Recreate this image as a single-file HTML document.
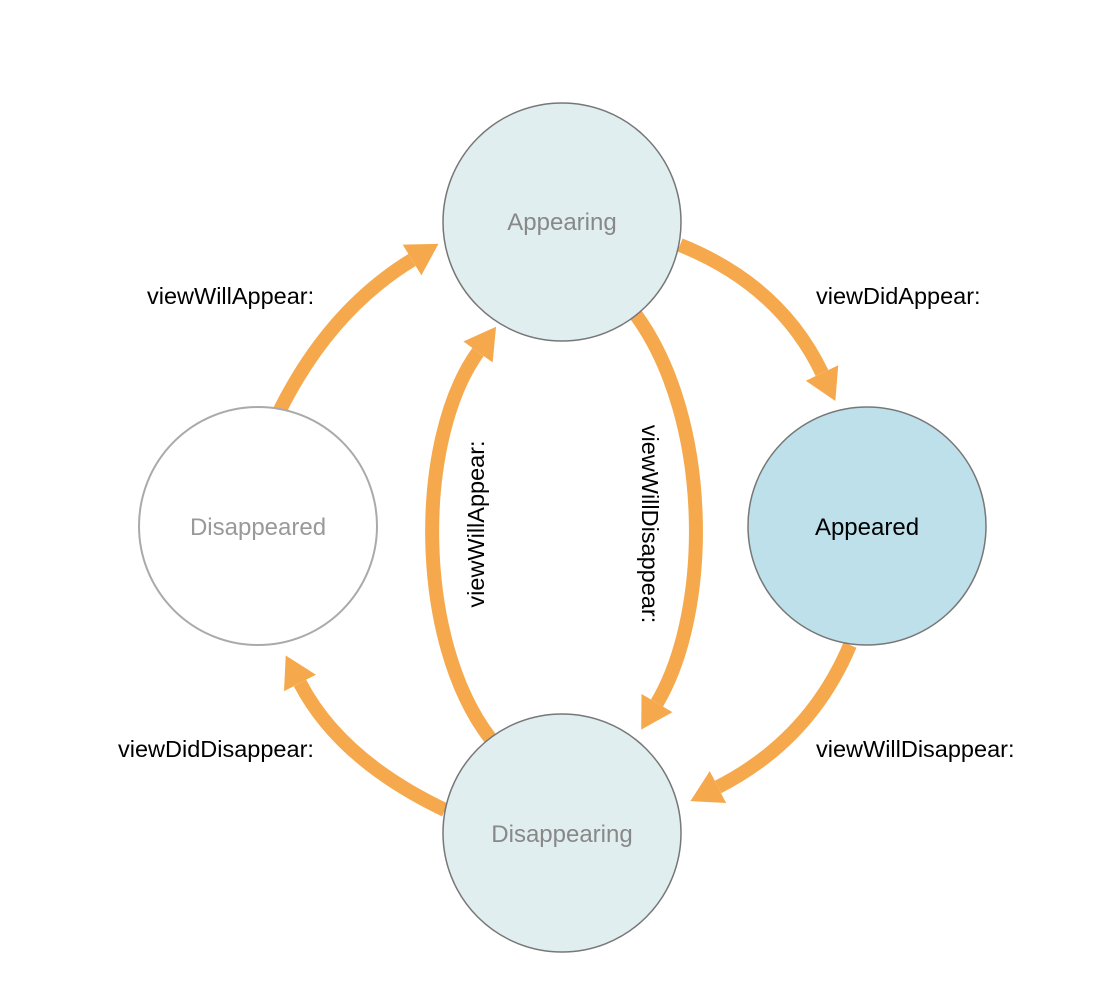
<!DOCTYPE html>
<html><head><style>html,body{margin:0;padding:0;background:#fff}</style></head>
<body>
<svg width="1106" height="976" viewBox="0 0 1106 976" xmlns="http://www.w3.org/2000/svg" font-family="Liberation Sans, sans-serif">
<defs>
<marker id="a" markerUnits="userSpaceOnUse" markerWidth="40" markerHeight="40" refX="0" refY="20" orient="auto" viewBox="0 0 40 40">
<path d="M0,2 L31,20 L0,38 Z" fill="#f5a94c"/>
</marker>
</defs>
<g fill="none" stroke="#f5a94c" stroke-width="14" marker-end="url(#a)">
<path d="M680,245 Q780,285 822,373"/>
<path d="M850,645 Q810,740 718,787"/>
<path d="M445,810 Q340,760 300,683"/>
<path d="M280,410 Q330,310 412,260"/>
<path d="M490,738 C415,640 415,440 478,352"/>
<path d="M636,315 C712,420 712,610 657,703"/>
</g>
<circle cx="562" cy="222" r="119" fill="#e0eeef" stroke="#777" stroke-width="1.5"/>
<circle cx="867" cy="526" r="119" fill="#bde0eb" stroke="#777" stroke-width="1.5"/>
<circle cx="258" cy="526" r="119" fill="#fff" stroke="#aaa" stroke-width="2"/>
<circle cx="562" cy="833" r="119" fill="#e0eeef" stroke="#777" stroke-width="1.5"/>
<g font-size="24" text-anchor="middle">
<text x="562" y="230" fill="#888">Appearing</text>
<text x="867" y="535" fill="#000">Appeared</text>
<text x="258" y="535" fill="#999">Disappeared</text>
<text x="562" y="842" fill="#888">Disappearing</text>
</g>
<g font-size="23.5" fill="#000">
<text x="147" y="304">viewWillAppear:</text>
<text x="816" y="304">viewDidAppear:</text>
<text x="118" y="757">viewDidDisappear:</text>
<text x="816" y="757">viewWillDisappear:</text>
<text transform="translate(484,524) rotate(-90)" text-anchor="middle">viewWillAppear:</text>
<text transform="translate(642,524) rotate(90)" text-anchor="middle">viewWillDisappear:</text>
</g>
</svg>
</body></html>
